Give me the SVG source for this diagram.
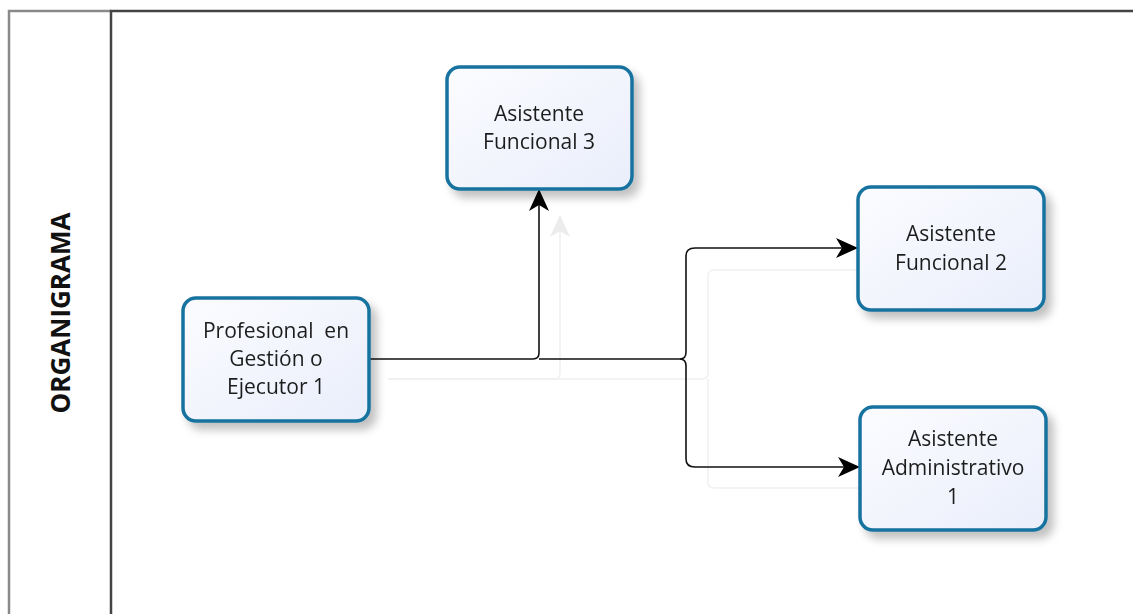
<svg xmlns="http://www.w3.org/2000/svg" width="1133" height="614" viewBox="0 0 1133 614">
<style>
.node rect{fill:url(#g);stroke:#17729f;stroke-width:3.5}
.node text{font-family:"Open Sans","Noto Sans",sans-serif;font-size:21px;fill:#1e1e1e;text-anchor:middle}
.con{fill:none;stroke:#111;stroke-width:1.6}
.ghost{fill:none;stroke:#f0f0f0;stroke-width:1.5}
</style>
<defs>
<linearGradient id="g" x1="0" y1="0" x2="1" y2="1"><stop offset="0" stop-color="#fbfcff"/><stop offset="1" stop-color="#eaeefb"/></linearGradient>
<filter id="sh" x="-20%" y="-20%" width="150%" height="150%"><feGaussianBlur in="SourceAlpha" stdDeviation="5"/><feOffset dx="6" dy="7"/><feComponentTransfer><feFuncA type="linear" slope="0.25"/></feComponentTransfer><feMerge><feMergeNode/><feMergeNode in="SourceGraphic"/></feMerge></filter>
<marker id="ar" viewBox="0 0 22 20" refX="21" refY="10" markerWidth="22" markerHeight="20" markerUnits="userSpaceOnUse" orient="auto"><path d="M0,0 L22,10 L0,20 L6,10 Z" fill="#000"/></marker>
<marker id="ga" viewBox="0 0 22 20" refX="21" refY="10" markerWidth="22" markerHeight="20" markerUnits="userSpaceOnUse" orient="auto"><path d="M0,0 L22,10 L0,20 L6,10 Z" fill="#ececec"/></marker>
</defs>
<rect width="1133" height="614" fill="#fff"/>
<g id="frame">
<path d="M9,614 V11 H111" fill="none" stroke="#8a8a8a" stroke-width="2.5"/>
<path d="M111,614 V11 H1133" fill="none" stroke="#444" stroke-width="2.5"/>
<text transform="translate(70,313) rotate(-90)" text-anchor="middle" font-family="'Open Sans','Noto Sans',sans-serif" font-weight="bold" font-size="26" fill="#111">ORGANIGRAMA</text>
</g>
<g id="connectors">
<path class="ghost" d="M388,379 H554 Q560,379 560,373 V216" marker-end="url(#ga)"/>
<path class="ghost" d="M388,379 H702 Q708,379 708,373 V276 Q708,270 714,270 H857"/>
<path class="ghost" d="M708,379 V482 Q708,488 714,488 H859"/>
<path class="con" d="M369,359 H533 Q539,359 539,353 V190" marker-end="url(#ar)"/>
<path class="con" d="M539,359 H680 Q686,359 686,352 V256 Q686,248 695,248 H857" marker-end="url(#ar)"/>
<path class="con" d="M680,359 Q686,359 686,366 V459 Q686,467 695,467 H859" marker-end="url(#ar)"/>
</g>
<g id="n3" class="node" filter="url(#sh)"><rect x="447" y="67" width="185" height="122" rx="13"/><text x="539" y="121">Asistente</text><text x="539" y="149">Funcional 3</text></g>
<g id="n1" class="node" filter="url(#sh)"><rect x="183" y="298" width="186" height="123" rx="13"/><text x="276" y="338">Profesional&#160; en</text><text x="276" y="366">Gestión o</text><text x="276" y="394">Ejecutor 1</text></g>
<g id="n2" class="node" filter="url(#sh)"><rect x="858" y="187" width="186" height="123" rx="13"/><text x="951" y="241">Asistente</text><text x="951" y="270">Funcional 2</text></g>
<g id="n4" class="node" filter="url(#sh)"><rect x="860" y="407" width="186" height="123" rx="13"/><text x="953" y="446">Asistente</text><text x="953" y="475">Administrativo</text><text x="953" y="504">1</text></g>
</svg>
